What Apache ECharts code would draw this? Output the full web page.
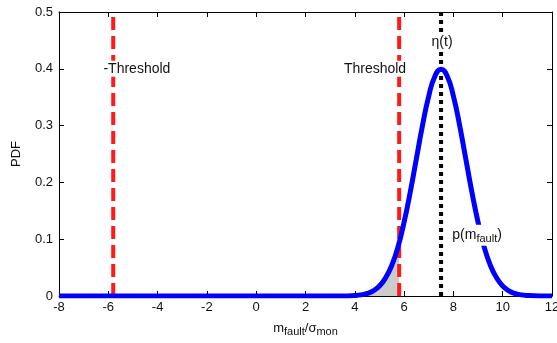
<!DOCTYPE html>
<html>
<head>
<meta charset="utf-8">
<script src="https://cdn.jsdelivr.net/npm/echarts@6/dist/echarts.min.js"></script>
<style>
  html, body { margin: 0; padding: 0; background: #fff; }
  #chart-container { width: 557px; height: 343px; }
</style>
</head>
<body>
<div id="chart-container"></div>
<script>
// curve
const curveX = [-8, 3.5, 4, 4.25, 4.5, 4.75, 5, 5.25, 5.5, 5.75, 6, 6.25, 6.5, 6.75, 7, 7.25, 7.5,
  7.75, 8, 8.25, 8.5, 8.75, 9, 9.25, 9.5, 9.75, 10, 10.25, 10.5, 10.75, 11, 11.5, 12];
const curveY = [0, 0.0001, 0.0009, 0.002, 0.0044, 0.009, 0.0175, 0.032, 0.054, 0.086, 0.130, 0.183, 0.242, 0.301, 0.352, 0.387, 0.399,
  0.387, 0.352, 0.301, 0.242, 0.183, 0.130, 0.086, 0.054, 0.032, 0.0175, 0.009, 0.0044, 0.002, 0.0009, 0.0001, 0];

// shaded tail below the threshold
const shadeX = [4, 4.25, 4.5, 4.75, 5, 5.25, 5.5, 5.75, 5.8];
const shadeY = [0.0009, 0.002, 0.0044, 0.009, 0.0175, 0.032, 0.054, 0.086, 0.094];

const threshold = 5.8;
const eta = 7.5;
const xTicks = [-8, -6, -4, -2, 0, 2, 4, 6, 8, 10, 12];
const yTicks = [0, 0.1, 0.2, 0.3, 0.4, 0.5];

const zip = (xs, ys) => xs.map((x, i) => [x, ys[i]]);

const font = "Liberation Sans, Arial, sans-serif";
const labelStyle = { color: "#111", fontSize: 13, fontFamily: font };
const noteStyle = { color: "#111", fontSize: 14, fontFamily: font, backgroundColor: "#fff", padding: [1, 1] };

const boxAxis = {
  splitLine: { show: false },
  axisLine: { show: true, onZero: false, lineStyle: { color: "#000", width: 1 } },
  axisTick: { show: true, inside: true, length: 5, lineStyle: { color: "#000" } },
};

const option = {
  animation: false,
  grid: { left: 59, right: 5, top: 12, bottom: 47, outerBoundsMode: "none" },
  xAxis: [
    {
      type: "value",
      min: xTicks[0],
      max: xTicks[xTicks.length - 1],
      interval: 2,
      ...boxAxis,
      axisLabel: { ...labelStyle, margin: 5 },
      name: "m{sub|fault}/σ{sub|mon}",
      nameLocation: "middle",
      nameGap: 24,
      nameTextStyle: {
        ...labelStyle,
        rich: { sub: { fontSize: 11, fontFamily: font, color: "#111", padding: [6, 0, 0, 0] } },
      },
    },
    {
      type: "value",
      position: "top",
      min: xTicks[0],
      max: xTicks[xTicks.length - 1],
      interval: 2,
      ...boxAxis,
      axisLabel: { show: false },
    },
  ],
  yAxis: [
    {
      type: "value",
      min: yTicks[0],
      max: yTicks[yTicks.length - 1],
      interval: 0.1,
      ...boxAxis,
      axisLabel: { ...labelStyle, margin: 6 },
      name: "PDF",
      nameLocation: "middle",
      nameGap: 36,
      nameTextStyle: labelStyle,
    },
    {
      type: "value",
      position: "right",
      min: yTicks[0],
      max: yTicks[yTicks.length - 1],
      interval: 0.1,
      ...boxAxis,
      axisLabel: { show: false },
    },
  ],
  series: [
    {
      type: "line",
      data: zip(shadeX, shadeY),
      smooth: true,
      symbol: "none",
      lineStyle: { width: 0 },
      areaStyle: { color: "#cccccc", opacity: 1 },
      z: 1,
    },
    {
      type: "line",
      data: [[-threshold, 0], [-threshold, 0.5]],
      symbol: "none",
      lineStyle: { color: "#ff1a1a", width: 4, type: [13, 6] },
      z: 2,
    },
    {
      type: "line",
      data: [[threshold, 0], [threshold, 0.5]],
      symbol: "none",
      lineStyle: { color: "#ff1a1a", width: 4, type: [13, 6] },
      z: 2,
    },
    {
      type: "line",
      data: [[eta, 0], [eta, 0.5]],
      symbol: "none",
      lineStyle: { color: "#000", width: 4, type: [4, 4] },
      z: 2,
    },
    {
      type: "line",
      data: zip(curveX, curveY),
      smooth: true,
      symbol: "none",
      lineStyle: { color: "#0000ff", width: 5 },
      z: 3,
    },
    {
      // text notes, drawn on top with a white box
      type: "scatter",
      data: [],
      z: 10,
      markPoint: {
        symbol: "rect",
        symbolSize: 0,
        silent: true,
        label: { show: true, position: "inside", ...noteStyle },
        data: [
          { coord: [-4.84, 0.4], label: { formatter: "-Threshold" } },
          { coord: [4.82, 0.4], label: { formatter: "Threshold" } },
          { coord: [7.54, 0.447], label: { formatter: "η(t)" } },
          {
            coord: [8.96, 0.107],
            label: {
              formatter: "p(m{sub|fault})",
              rich: { sub: { fontSize: 11, fontFamily: font, color: "#111", padding: [8, 0, 0, 0] } },
            },
          },
        ],
      },
    },
  ],
};

const dom = document.getElementById("chart-container");
const myChart = echarts.init(dom, null, { renderer: "canvas" });
myChart.setOption(option);
</script>
</body>
</html>
